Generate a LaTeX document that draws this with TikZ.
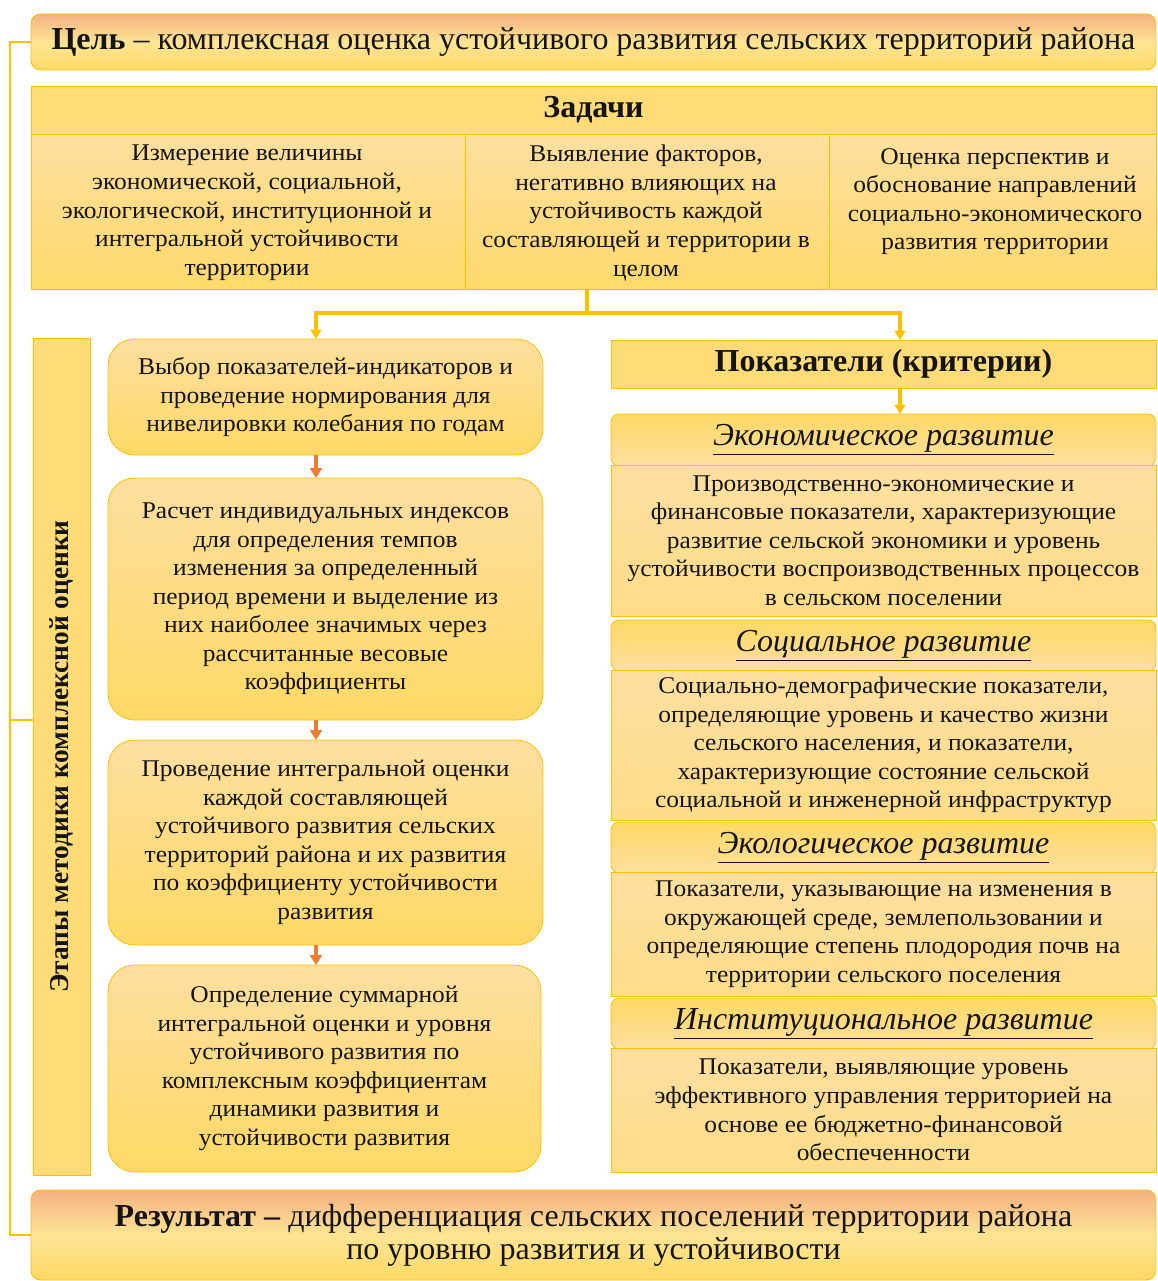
\documentclass[tikz,border=0pt]{standalone}
\usepackage{fontspec}
\setmainfont{Liberation Serif}
\newfontfamily\bodyff[FakeStretch=1.06]{Liberation Serif}
\usetikzlibrary{arrows.meta,calc}
\definecolor{gold}{HTML}{FFC000}
\definecolor{peach}{HTML}{F4B183}
\definecolor{ylw}{HTML}{FFD966}
\definecolor{lyl}{HTML}{FEDFA0}
\definecolor{hdr}{HTML}{FFDC78}
\definecolor{orng}{HTML}{ED7D31}
\definecolor{ink}{HTML}{141414}
\newcommand\rbox[7]{\node[#2, anchor=north west, minimum width={(#5-#3)*0.75pt}, minimum height={(#6-#4)*0.75pt}] (#1) at (#3,#4) {#7};}
\newcommand\bodyfont{\bodyff\fontsize{18pt}{21.4pt}\selectfont}
\newcommand\bigfont{\fontsize{24pt}{25pt}\selectfont}
\begin{document}
\begin{tikzpicture}[x=0.75pt,y=-0.75pt,
  base/.style={draw=gold, line width=0.6pt, inner sep=0pt, outer sep=0pt, text=ink, align=center},
  goalbox/.style={base, rounded corners=7pt, top color=peach, bottom color=ylw, middle color=ylw!70!white},
  hdrbox/.style={base, fill=hdr},
  cellbox/.style={base, top color=lyl, bottom color=ylw!90!lyl},
  stepbox/.style={base, rounded corners=20pt, top color=lyl, bottom color=ylw, font=\bodyfont},
  crithdr/.style={base, rounded corners=6pt, top color=ylw, bottom color=lyl, font=\bigfont\itshape},
  critbody/.style={base, top color=lyl, bottom color=lyl!60!ylw, font=\bodyfont},
  link/.style={draw=gold, line width=2.4pt},
  goldarrow/.style={link, -{Triangle[length=7pt,width=8pt]}},
  stepsarrow/.style={draw=orng, line width=3pt, -{Triangle[length=7.5pt,width=9pt]}},
  bracket/.style={draw=gold, line width=1.8pt},
  txt/.style={text=ink, align=center, inner sep=0pt, font=\bodyfont}
]
\useasboundingbox (0,0) rectangle (1157,1281);

% goal
\rbox{goal}{goalbox, font=\bigfont}{31}{14}{1156}{70}{\textbf{Цель} – комплексная оценка устойчивого развития сельских территорий района}

% tasks
\rbox{tasks}{hdrbox, font=\bigfont}{31}{86}{1156}{134}{\textbf{Задачи}}
\rbox{c1}{cellbox}{31}{134}{465}{289}{}
\rbox{c2}{cellbox}{465}{134}{829}{289}{}
\rbox{c3}{cellbox}{829}{134}{1156}{289}{}
\node[txt, anchor=north] (t1) at (247,145) {Измерение величины\\экономической, социальной,\\экологической, институционной и\\интегральной устойчивости\\территории};
\node[txt, anchor=north] (t2) at (646,145) {Выявление факторов,\\негативно влияющих на\\устойчивость каждой\\составляющей и территории в\\целом};
\node[txt, anchor=north] (t3) at (995,148) {Оценка перспектив и\\обоснование направлений\\социально-экономического\\развития территории};

% stages column
\rbox{stages}{hdrbox}{33}{338}{90}{1175}{}
\node[txt, rotate=90, font=\fontsize{20.5pt}{24pt}\selectfont\bfseries] (stxt) at (stages.center) {Этапы методики комплексной оценки};

% steps
\rbox{s1}{stepbox}{108}{339}{543}{455}{Выбор показателей-индикаторов и\\проведение нормирования для\\нивелировки колебания по годам}
\rbox{s2}{stepbox}{108}{478}{543}{720}{Расчет индивидуальных индексов\\для определения темпов\\изменения за определенный\\период времени и выделение из\\них наиболее значимых через\\рассчитанные весовые\\коэффициенты}
\rbox{s3}{stepbox}{108}{740}{543}{945}{Проведение интегральной оценки\\каждой составляющей\\устойчивого развития сельских\\территорий района и их развития\\по коэффициенту устойчивости\\развития}
\rbox{s4}{stepbox}{108}{965}{541}{1172}{Определение суммарной\\интегральной оценки и уровня\\устойчивого развития по\\комплексным коэффициентам\\динамики развития и\\устойчивости развития}

% criteria
\rbox{crit}{hdrbox, font=\bigfont}{611}{340}{1156}{388}{\textbf{Показатели (критерии)}}
\rbox{h1}{crithdr}{611}{414}{1156}{466}{\underline{Экономическое развитие}}
\rbox{b1}{critbody}{611}{465}{1156}{616}{Производственно-экономические и\\финансовые показатели, характеризующие\\развитие сельской экономики и уровень\\устойчивости воспроизводственных процессов\\в сельском поселении}
\rbox{h2}{crithdr}{611}{620}{1156}{671}{\underline{Социальное развитие}}
\rbox{b2}{critbody}{611}{670}{1156}{820}{Социально-демографические показатели,\\определяющие уровень и качество жизни\\сельского населения, и показатели,\\характеризующие состояние сельской\\социальной и инженерной инфраструктур}
\rbox{h3}{crithdr}{611}{822}{1156}{873}{\underline{Экологическое развитие}}
\rbox{b3}{critbody}{611}{872}{1156}{996}{Показатели, указывающие на изменения в\\окружающей среде, землепользовании и\\определяющие степень плодородия почв на\\территории сельского поселения}
\rbox{h4}{crithdr}{611}{998}{1156}{1049}{\underline{Институциональное развитие}}
\rbox{b4}{critbody}{611}{1048}{1156}{1172}{Показатели, выявляющие уровень\\эффективного управления территорией на\\основе ее бюджетно-финансовой\\обеспеченности}

% result
\rbox{res}{goalbox, font=\fontsize{24pt}{24.75pt}\selectfont}{31}{1190}{1156}{1280}{\textbf{Результат –} дифференциация сельских поселений территории района\\по уровню развития и устойчивости}

% connectors
\coordinate (split) at (587,313);
\draw[link] (c2.south -| split) -- (split);
\draw[goldarrow] (split) -| (s1.north -| 316,0);
\draw[goldarrow] (split) -| (crit.north -| 900,0);
\draw[goldarrow] (crit.south -| 900,0) -- (h1.north -| 900,0);
\draw[stepsarrow] (s1.south -| 316,0) -- (s2.north -| 316,0);
\draw[stepsarrow] (s2.south -| 316,0) -- (s3.north -| 316,0);
\draw[stepsarrow] (s3.south -| 316,0) -- (s4.north -| 316,0);
\coordinate (bk) at (10,0);
\draw[bracket] (goal.west) -| (bk |- res.west) -- (res.west);
\draw[bracket] (bk |- 0,720) -- (stages.west |- 0,720);
\end{tikzpicture}
\end{document}
